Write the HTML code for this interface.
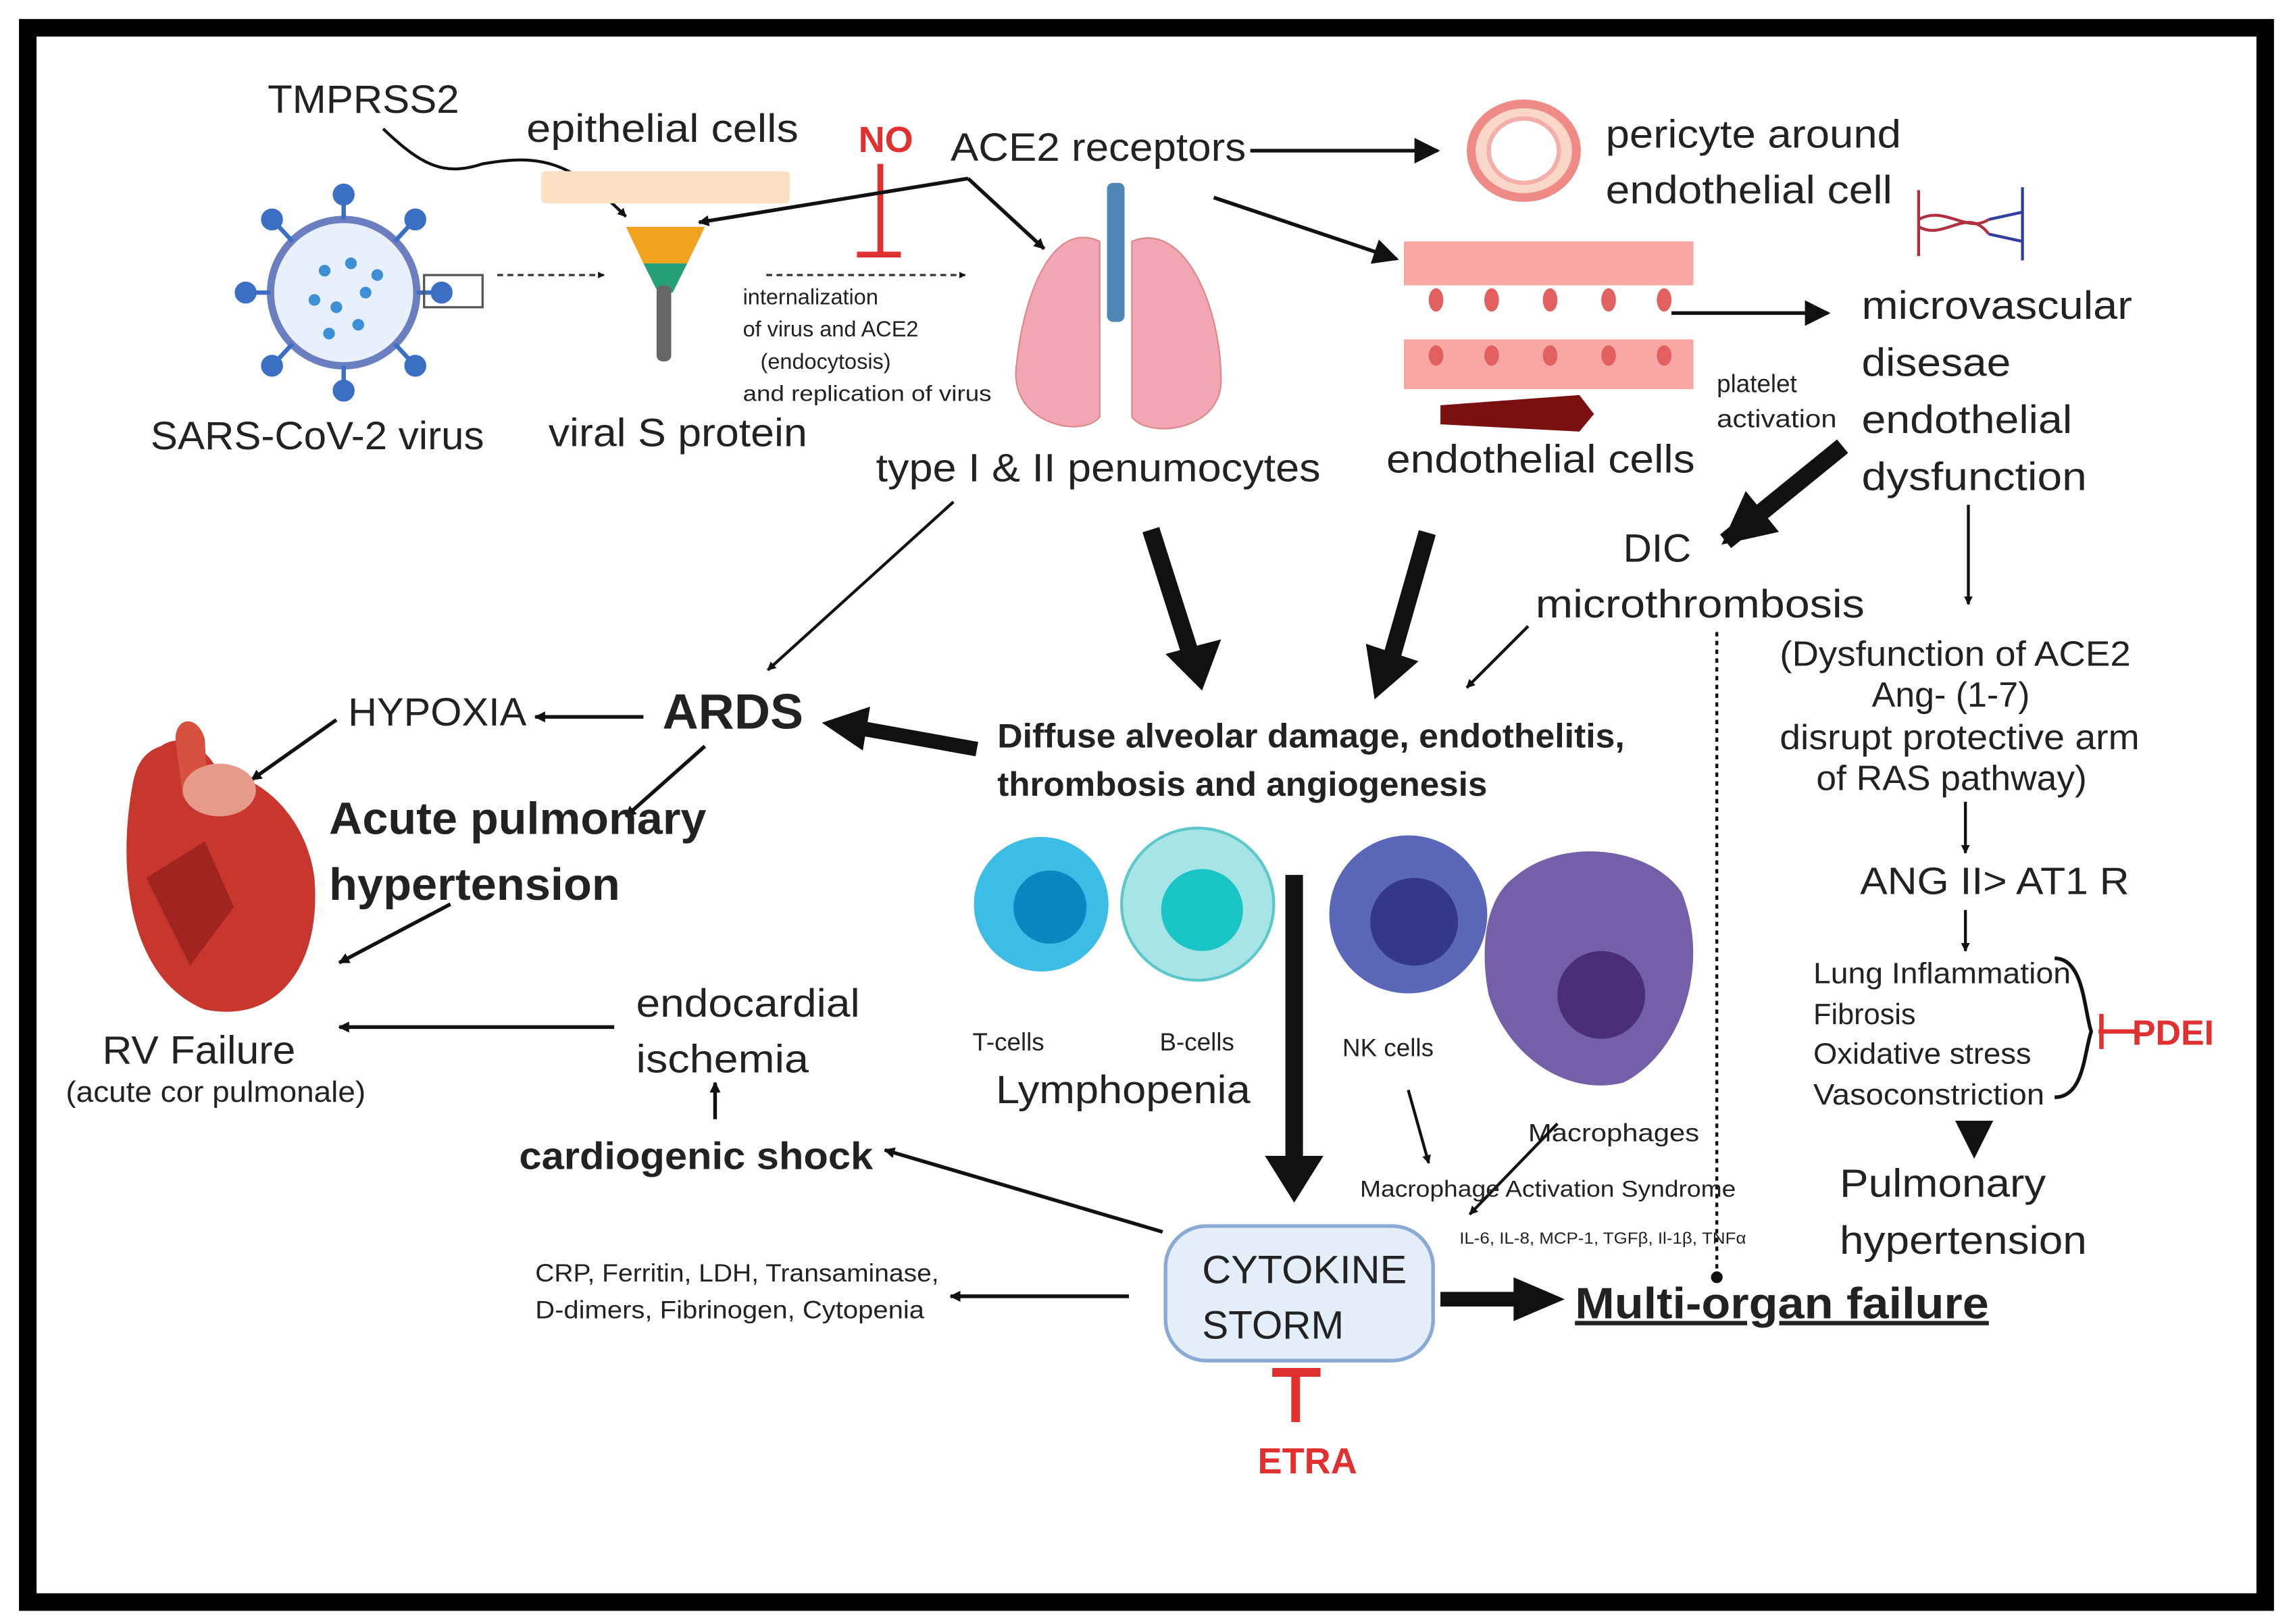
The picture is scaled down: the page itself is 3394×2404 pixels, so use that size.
<!DOCTYPE html>
<html><head><meta charset="utf-8"><style>
html,body{margin:0;padding:0;background:#fff;}
svg{display:block;}
text{font-family:"Liberation Sans",sans-serif;fill:#222;}
</style></head><body>
<svg width="3394" height="2404" viewBox="0 0 1568 1110" preserveAspectRatio="none" xmlns="http://www.w3.org/2000/svg">
<defs>
<marker id="a" viewBox="0 0 10 10" refX="9" refY="5" markerWidth="7" markerHeight="7" orient="auto"><path d="M0,0L10,5L0,10z" fill="#111"/></marker>
<marker id="b" viewBox="0 0 10 10" refX="9" refY="5" markerWidth="3" markerHeight="3" orient="auto"><path d="M0,0L10,5L0,10z" fill="#111"/></marker>
</defs>
<rect x="0" y="0" width="1568" height="1110" fill="#fff"/>
<rect x="19" y="19" width="1530" height="1076" fill="none" stroke="#000" stroke-width="12"/>

<g>
<circle cx="235" cy="200" r="50" fill="#e8f1fb" stroke="#6b7fc0" stroke-width="5"/>
<g stroke="#3a6fc4" stroke-width="3" fill="#3a6fc4">
<line x1="235" y1="150" x2="235" y2="135"/><line x1="235" y1="250" x2="235" y2="265"/>
<line x1="185" y1="200" x2="170" y2="200"/><line x1="285" y1="200" x2="300" y2="200"/>
<line x1="200" y1="165" x2="188" y2="152"/><line x1="270" y1="165" x2="282" y2="152"/>
<line x1="200" y1="235" x2="188" y2="248"/><line x1="270" y1="235" x2="282" y2="248"/>
<circle cx="235" cy="133" r="6"/><circle cx="235" cy="267" r="6"/><circle cx="168" cy="200" r="6"/><circle cx="302" cy="200" r="6"/>
<circle cx="186" cy="150" r="6"/><circle cx="284" cy="150" r="6"/><circle cx="186" cy="250" r="6"/><circle cx="284" cy="250" r="6"/>
</g>
<g fill="#3d8fd6"><circle cx="222" cy="185" r="4"/><circle cx="240" cy="180" r="4"/><circle cx="250" cy="200" r="4"/><circle cx="230" cy="210" r="4"/><circle cx="215" cy="205" r="4"/><circle cx="245" cy="222" r="4"/><circle cx="225" cy="228" r="4"/><circle cx="258" cy="188" r="4"/></g>
<rect x="290" y="188" width="40" height="22" fill="none" stroke="#555" stroke-width="1.5"/>
</g>
<text x="103" y="307" font-size="27" textLength="228" lengthAdjust="spacingAndGlyphs">SARS-CoV-2 virus</text>
<text x="183" y="77" font-size="27" textLength="131" lengthAdjust="spacingAndGlyphs">TMPRSS2</text>
<path d="M262,88 C290,115 305,120 330,112 C370,105 390,110 428,148" fill="none" stroke="#111" stroke-width="2" marker-end="url(#b)"/>
<line x1="340" y1="188" x2="413" y2="188" stroke="#333" stroke-width="1.5" stroke-dasharray="4,3" marker-end="url(#b)"/>

<text x="360" y="97" font-size="27" textLength="186" lengthAdjust="spacingAndGlyphs">epithelial cells</text>
<rect x="370" y="117" width="170" height="22" fill="#fbe0c4" rx="3"/>
<path d="M428,155 L482,155 L470,180 L440,180z" fill="#f2a21c"/>
<path d="M440,180 L470,180 L460,200 L450,200z" fill="#27a07a"/>
<rect x="449" y="195" width="10" height="52" fill="#666" rx="4"/>
<text x="375" y="305" font-size="27" textLength="177" lengthAdjust="spacingAndGlyphs">viral S protein</text>

<text x="587" y="104" font-size="25" font-weight="bold" style="fill:#e03030">NO</text>
<line x1="602" y1="112" x2="602" y2="174" stroke="#e03030" stroke-width="4"/>
<line x1="586" y1="174" x2="616" y2="174" stroke="#e03030" stroke-width="4"/>
<line x1="662" y1="122" x2="478" y2="152" stroke="#111" stroke-width="2.5" marker-end="url(#b)"/>
<line x1="662" y1="122" x2="714" y2="170" stroke="#111" stroke-width="2.5" marker-end="url(#b)"/>
<line x1="524" y1="188" x2="660" y2="188" stroke="#333" stroke-width="1.5" stroke-dasharray="4,3" marker-end="url(#b)"/>
<text font-size="15"><tspan x="508" y="208">internalization</tspan><tspan x="508" y="230">of virus and ACE2</tspan><tspan x="520" y="252">(endocytosis)</tspan><tspan x="508" y="274" textLength="170" lengthAdjust="spacingAndGlyphs">and replication of virus</tspan></text>

<text x="650" y="110" font-size="27" textLength="202" lengthAdjust="spacingAndGlyphs">ACE2 receptors</text>
<line x1="855" y1="103" x2="983" y2="103" stroke="#111" stroke-width="2.5" marker-end="url(#a)"/>
<path d="M752,165 C720,150 700,200 695,250 C690,290 740,300 752,285z" fill="#f2a6b3" stroke="#d88" stroke-width="1"/>
<path d="M774,165 C810,150 835,210 835,260 C835,295 785,300 774,285z" fill="#f2a6b3" stroke="#d88" stroke-width="1"/>
<rect x="757" y="125" width="12" height="95" fill="#4f86b8" rx="4"/>
<text x="599" y="329" font-size="27" textLength="304" lengthAdjust="spacingAndGlyphs">type I &amp; II penumocytes</text>

<ellipse cx="1042" cy="103" rx="36" ry="32" fill="#fbd7c8" stroke="#f08a86" stroke-width="6"/>
<ellipse cx="1042" cy="103" rx="24" ry="22" fill="#fff" stroke="#f4b0a8" stroke-width="3"/>
<text font-size="27"><tspan x="1098" y="101" textLength="202" lengthAdjust="spacingAndGlyphs">pericyte around</tspan><tspan x="1098" y="139" textLength="196" lengthAdjust="spacingAndGlyphs">endothelial cell</tspan></text>
<g stroke="#b03040" stroke-width="2" fill="none"><path d="M1312,130 L1312,175 M1312,150 C1330,140 1345,160 1360,150 M1312,155 C1330,165 1345,140 1360,160"/></g>
<g stroke="#3040a0" stroke-width="2" fill="none"><path d="M1383,128 L1383,178 M1360,150 L1383,145 M1360,160 L1383,165"/></g>
<line x1="830" y1="135" x2="955" y2="177" stroke="#111" stroke-width="2.5" marker-end="url(#a)"/>

<rect x="960" y="165" width="198" height="30" fill="#f9a7a4"/>
<rect x="960" y="232" width="198" height="34" fill="#f9a7a4"/>
<g fill="#e2605f"><ellipse cx="982" cy="205" rx="5" ry="8"/><ellipse cx="1020" cy="205" rx="5" ry="8"/><ellipse cx="1060" cy="205" rx="5" ry="8"/><ellipse cx="1100" cy="205" rx="5" ry="8"/><ellipse cx="1138" cy="205" rx="5" ry="8"/>
<ellipse cx="982" cy="243" rx="5" ry="7"/><ellipse cx="1020" cy="243" rx="5" ry="7"/><ellipse cx="1060" cy="243" rx="5" ry="7"/><ellipse cx="1100" cy="243" rx="5" ry="7"/><ellipse cx="1138" cy="243" rx="5" ry="7"/></g>
<path d="M985,277 L1080,270 L1090,283 L1080,295 L985,290z" fill="#7a1010"/>
<text x="948" y="323" font-size="27" textLength="211" lengthAdjust="spacingAndGlyphs">endothelial cells</text>
<line x1="1143" y1="214" x2="1250" y2="214" stroke="#111" stroke-width="2.5" marker-end="url(#a)"/>
<text font-size="17"><tspan x="1174" y="268">platelet</tspan><tspan x="1174" y="292" textLength="82" lengthAdjust="spacingAndGlyphs">activation</tspan></text>
<text font-size="27"><tspan x="1273" y="218" textLength="185" lengthAdjust="spacingAndGlyphs">microvascular</tspan><tspan x="1273" y="257" textLength="102" lengthAdjust="spacingAndGlyphs">disesae</tspan><tspan x="1273" y="296" textLength="144" lengthAdjust="spacingAndGlyphs">endothelial</tspan><tspan x="1273" y="335" textLength="154" lengthAdjust="spacingAndGlyphs">dysfunction</tspan></text>
<line x1="1260" y1="305" x2="1180" y2="370" stroke="#111" stroke-width="12" marker-end="url(#b)"/>
<text x="1110" y="384" font-size="27">DIC</text>
<text x="1050" y="422" font-size="27" textLength="225" lengthAdjust="spacingAndGlyphs">microthrombosis</text>
<line x1="1346" y1="345" x2="1346" y2="413" stroke="#111" stroke-width="2" marker-end="url(#b)"/>
<line x1="1174" y1="432" x2="1174" y2="870" stroke="#111" stroke-width="2" stroke-dasharray="3,3"/>
<circle cx="1174" cy="873" r="4" fill="#111"/>
<line x1="1045" y1="428" x2="1003" y2="470" stroke="#111" stroke-width="2" marker-end="url(#b)"/>

<text font-size="24"><tspan x="1217" y="455" textLength="240" lengthAdjust="spacingAndGlyphs">(Dysfunction of ACE2</tspan><tspan x="1280" y="483">Ang- (1-7)</tspan><tspan x="1217" y="512" textLength="246" lengthAdjust="spacingAndGlyphs">disrupt protective arm</tspan><tspan x="1242" y="540" textLength="185" lengthAdjust="spacingAndGlyphs">of RAS pathway)</tspan></text>
<line x1="1344" y1="548" x2="1344" y2="583" stroke="#111" stroke-width="2" marker-end="url(#b)"/>
<text x="1272" y="611" font-size="26" textLength="184" lengthAdjust="spacingAndGlyphs">ANG II&gt; AT1 R</text>
<line x1="1344" y1="622" x2="1344" y2="650" stroke="#111" stroke-width="2" marker-end="url(#b)"/>
<text font-size="20"><tspan x="1240" y="672" textLength="176" lengthAdjust="spacingAndGlyphs">Lung Inflammation</tspan><tspan x="1240" y="700">Fibrosis</tspan><tspan x="1240" y="727" textLength="149" lengthAdjust="spacingAndGlyphs">Oxidative stress</tspan><tspan x="1240" y="755" textLength="158" lengthAdjust="spacingAndGlyphs">Vasoconstriction</tspan></text>
<path d="M1405,655 C1425,655 1425,690 1430,705 C1425,720 1425,750 1405,750" fill="none" stroke="#111" stroke-width="2.5"/>
<line x1="1435" y1="705" x2="1462" y2="705" stroke="#e03030" stroke-width="3"/>
<line x1="1437" y1="693" x2="1437" y2="717" stroke="#e03030" stroke-width="3"/>
<text x="1458" y="714" font-size="24" font-weight="bold" style="fill:#e03030">PDEI</text>
<path d="M1337,766 L1363,766 L1350,792z" fill="#111"/>
<text font-size="27"><tspan x="1258" y="818" textLength="141" lengthAdjust="spacingAndGlyphs">Pulmonary</tspan><tspan x="1258" y="857" textLength="169" lengthAdjust="spacingAndGlyphs">hypertension</tspan></text>

<line x1="787" y1="362" x2="815" y2="450" stroke="#111" stroke-width="12"/><path d="M797,447 L835,437 L822,472z" fill="#111"/>
<line x1="976" y1="364" x2="952" y2="448" stroke="#111" stroke-width="12"/><path d="M934,440 L970,452 L940,478z" fill="#111"/>
<line x1="652" y1="343" x2="525" y2="458" stroke="#111" stroke-width="2" marker-end="url(#b)"/>

<text x="453" y="498" font-size="34" font-weight="bold">ARDS</text>
<line x1="668" y1="512" x2="590" y2="498" stroke="#111" stroke-width="10"/><path d="M562,494 L595,483 L590,513z" fill="#111"/>
<text font-size="23" font-weight="bold"><tspan x="682" y="511" textLength="429" lengthAdjust="spacingAndGlyphs">Diffuse alveolar damage, endothelitis,</tspan><tspan x="682" y="544" textLength="335" lengthAdjust="spacingAndGlyphs">thrombosis and angiogenesis</tspan></text>
<line x1="440" y1="490" x2="366" y2="490" stroke="#111" stroke-width="2.5" marker-end="url(#b)"/>
<text x="238" y="496" font-size="27" textLength="122" lengthAdjust="spacingAndGlyphs">HYPOXIA</text>
<line x1="230" y1="492" x2="172" y2="533" stroke="#111" stroke-width="2.5" marker-end="url(#b)"/>
<line x1="482" y1="510" x2="428" y2="558" stroke="#111" stroke-width="2.5" marker-end="url(#b)"/>
<text font-size="31" font-weight="bold"><tspan x="225" y="570" textLength="258" lengthAdjust="spacingAndGlyphs">Acute pulmonary</tspan><tspan x="225" y="615" textLength="199" lengthAdjust="spacingAndGlyphs">hypertension</tspan></text>
<line x1="308" y1="618" x2="232" y2="658" stroke="#111" stroke-width="2.5" marker-end="url(#b)"/>

<path d="M90,540 C80,600 90,670 140,690 C190,700 220,660 215,600 C210,560 180,530 150,528 C140,510 125,500 110,510 C95,515 92,528 90,540z" fill="#c8372d"/>
<path d="M120,505 C120,490 135,488 140,505 L142,540 L125,545z" fill="#d85040"/>
<ellipse cx="150" cy="540" rx="25" ry="18" fill="#e89a8a"/>
<path d="M100,600 L140,575 L160,620 L130,660z" fill="#a02520"/>
<text x="70" y="727" font-size="27" textLength="132" lengthAdjust="spacingAndGlyphs">RV Failure</text>
<text x="45" y="753" font-size="20" textLength="205" lengthAdjust="spacingAndGlyphs">(acute cor pulmonale)</text>
<line x1="420" y1="702" x2="232" y2="702" stroke="#111" stroke-width="2.5" marker-end="url(#b)"/>
<text font-size="27"><tspan x="435" y="695" textLength="153" lengthAdjust="spacingAndGlyphs">endocardial</tspan><tspan x="435" y="733" textLength="118" lengthAdjust="spacingAndGlyphs">ischemia</tspan></text>
<line x1="489" y1="765" x2="489" y2="740" stroke="#111" stroke-width="2.5" marker-end="url(#b)"/>
<text x="355" y="799" font-size="26" font-weight="bold" textLength="242" lengthAdjust="spacingAndGlyphs">cardiogenic shock</text>
<line x1="795" y1="842" x2="605" y2="786" stroke="#111" stroke-width="2.5" marker-end="url(#b)"/>
<text font-size="17"><tspan x="366" y="876" textLength="276" lengthAdjust="spacingAndGlyphs">CRP, Ferritin, LDH, Transaminase,</tspan><tspan x="366" y="901" textLength="266" lengthAdjust="spacingAndGlyphs">D-dimers, Fibrinogen, Cytopenia</tspan></text>
<line x1="772" y1="886" x2="650" y2="886" stroke="#111" stroke-width="2.5" marker-end="url(#b)"/>

<circle cx="712" cy="618" r="46" fill="#3bbde6"/><circle cx="718" cy="620" r="25" fill="#0a86c0"/>
<circle cx="819" cy="618" r="52" fill="#a7e4e6" stroke="#5cc8cc" stroke-width="2"/><circle cx="822" cy="622" r="28" fill="#18c4c4"/>
<circle cx="963" cy="625" r="54" fill="#5b67b8"/><circle cx="967" cy="630" r="30" fill="#35378a"/>
<path d="M1035,600 C1070,570 1130,580 1150,610 C1170,660 1150,720 1110,740 C1070,750 1030,720 1018,680 C1012,650 1015,615 1035,600z" fill="#7460a8"/>
<circle cx="1095" cy="680" r="30" fill="#4a2e78"/>
<text x="665" y="718" font-size="17">T-cells</text>
<text x="793" y="718" font-size="17">B-cells</text>
<text x="918" y="722" font-size="17">NK cells</text>
<text x="681" y="754" font-size="27" textLength="174" lengthAdjust="spacingAndGlyphs">Lymphopenia</text>
<text x="1045" y="780" font-size="17" textLength="117" lengthAdjust="spacingAndGlyphs">Macrophages</text>
<line x1="885" y1="598" x2="885" y2="795" stroke="#111" stroke-width="12"/><path d="M865,790 L905,790 L885,822z" fill="#111"/>
<line x1="963" y1="745" x2="977" y2="795" stroke="#111" stroke-width="2" marker-end="url(#b)"/>
<line x1="1065" y1="768" x2="1005" y2="830" stroke="#111" stroke-width="2" marker-end="url(#b)"/>
<text x="930" y="818" font-size="16" textLength="257" lengthAdjust="spacingAndGlyphs">Macrophage Activation Syndrome</text>
<text x="998" y="850" font-size="11" textLength="196" lengthAdjust="spacingAndGlyphs">IL-6, IL-8, MCP-1, TGFβ, Il-1β,  TNFα</text>

<rect x="797" y="838" width="183" height="92" rx="28" fill="#e4eef9" stroke="#8aaad6" stroke-width="2.5"/>
<text font-size="27"><tspan x="822" y="877" textLength="140" lengthAdjust="spacingAndGlyphs">CYTOKINE</tspan><tspan x="822" y="915">STORM</tspan></text>
<line x1="886" y1="936" x2="886" y2="972" stroke="#e03030" stroke-width="6"/>
<line x1="870" y1="938" x2="903" y2="938" stroke="#e03030" stroke-width="6"/>
<text x="860" y="1007" font-size="25" font-weight="bold" style="fill:#e03030">ETRA</text>
<line x1="985" y1="888" x2="1040" y2="888" stroke="#111" stroke-width="10"/><path d="M1035,873 L1070,888 L1035,903z" fill="#111"/>
<text x="1077" y="901" font-size="30" font-weight="bold" text-decoration="underline" textLength="283" lengthAdjust="spacingAndGlyphs">Multi-organ failure</text>
</svg>
</body></html>
